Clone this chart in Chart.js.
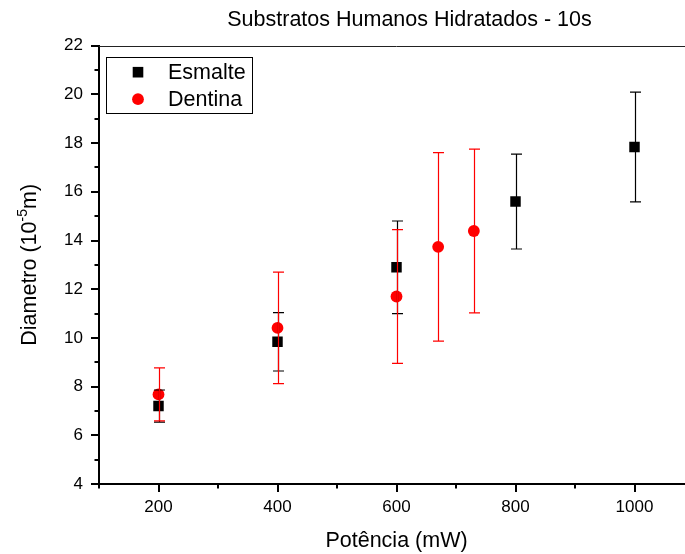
<!DOCTYPE html>
<html><head><meta charset="utf-8">
<script src="https://cdn.jsdelivr.net/npm/chart.js@4"></script>
<style>html,body{margin:0;padding:0;overflow:hidden;background:#fff}
#wrap{width:819px;height:554px;position:relative}
</style></head><body><div id="wrap"><canvas id="c" width="819" height="554"></canvas></div>
<script>
const titleText = 'Substratos Humanos Hidratados - 10s';
const xTitle = 'Potência (mW)';
const yTitleMain = 'Diametro (10';
const yTitleSup = '-5';
const yTitleEnd = 'm)';
const seriesLabels = ['Esmalte', 'Dentina'];
const esmalteX = [200, 400, 600, 800, 1000];
const esmalteY = [7.2, 9.84, 12.9, 15.6, 17.84];
const esmalteErr = [0.66, 1.2, 1.9, 1.95, 2.25];
const dentinaX = [200, 400, 600, 670, 730];
const dentinaY = [7.68, 10.41, 11.7, 13.74, 14.39];
const dentinaErr = [1.09, 2.29, 2.75, 3.87, 3.36];
const xMin = 100, xMax = 1100, xStep = 100, xLabelEvery = 200;
const yMin = 4, yMax = 22, yStep = 1, yLabelEvery = 2;

const FONT = "'Liberation Sans', Arial, sans-serif";
const errors = [esmalteErr, dentinaErr];

const toPts = (xs, ys) => xs.map((x, i) => ({x: x, y: ys[i]}));

const errorBarPlugin = {
  id: 'errorBars',
  afterDatasetsDraw(chart) {
    const ctx = chart.ctx, xs = chart.scales.x, ys = chart.scales.y;
    chart.data.datasets.forEach((ds, di) => {
      const err = errors[di];
      ctx.save();
      ctx.strokeStyle = ds.borderColor;
      ctx.lineWidth = 1.2;
      ds.data.forEach((p, i) => {
        const px = Math.round(xs.getPixelForValue(p.x)) + 0.5;
        const y1 = ys.getPixelForValue(p.y + err[i]);
        const y2 = ys.getPixelForValue(p.y - err[i]);
        ctx.beginPath();
        ctx.moveTo(px, y1); ctx.lineTo(px, y2);
        ctx.moveTo(px - 5.5, y1); ctx.lineTo(px + 5.5, y1);
        ctx.moveTo(px - 5.5, y2); ctx.lineTo(px + 5.5, y2);
        ctx.stroke();
      });
      ctx.restore();
    });
  }
};

const decorPlugin = {
  id: 'decor',
  afterDraw(chart) {
    const ctx = chart.ctx, a = chart.chartArea, xs = chart.scales.x, ys = chart.scales.y;
    ctx.save();
    // chart title
    ctx.fillStyle = '#000';
    ctx.font = '21.5px ' + FONT;
    ctx.textAlign = 'center';
    ctx.textBaseline = 'alphabetic';
    ctx.fillText(titleText, 409.5, 26);
    // top frame line
    ctx.strokeStyle = '#222';
    ctx.lineWidth = 1;
    ctx.beginPath();
    ctx.moveTo(a.left, Math.round(a.top) + 0.5); ctx.lineTo(a.right, Math.round(a.top) + 0.5);
    ctx.stroke();
    // ticks
    ctx.strokeStyle = '#000';
    ctx.lineWidth = 2;
    ctx.beginPath();
    xs.ticks.forEach(t => {
      const px = Math.round(xs.getPixelForValue(t.value));
      const len = (t.value % xLabelEvery === 0) ? 8 : 4.5;
      ctx.moveTo(px, a.bottom); ctx.lineTo(px, a.bottom + len);
    });
    ys.ticks.forEach(t => {
      const py = Math.round(ys.getPixelForValue(t.value));
      const len = (t.value % yLabelEvery === 0) ? 8 : 4.5;
      ctx.moveTo(a.left, py); ctx.lineTo(a.left - len, py);
    });
    ctx.stroke();

    // y axis title with superscript
    ctx.fillStyle = '#000';
    ctx.textBaseline = 'alphabetic';
    ctx.textAlign = 'left';
    const big = '21.5px ' + FONT, small = '14px ' + FONT;
    ctx.font = big;
    const w1 = ctx.measureText(yTitleMain).width, w3 = ctx.measureText(yTitleEnd).width;
    ctx.font = small;
    const w2 = ctx.measureText(yTitleSup).width;
    const total = w1 + w2 + w3;
    ctx.translate(36, (a.top + a.bottom) / 2);
    ctx.rotate(-Math.PI / 2);
    let x0 = -total / 2;
    ctx.font = big;
    ctx.fillText(yTitleMain, x0, 0);
    ctx.font = small;
    ctx.fillText(yTitleSup, x0 + w1, -9);
    ctx.font = big;
    ctx.fillText(yTitleEnd, x0 + w1 + w2, 0);
    ctx.restore();

    // legend
    ctx.save();
    const lx = a.left + 7, ly = a.top + 11, lw = 146, lh = 56;
    ctx.strokeStyle = '#000';
    ctx.lineWidth = 1;
    ctx.strokeRect(Math.round(lx) + 0.5, Math.round(ly) + 0.5, lw, lh);
    ctx.font = '21.5px ' + FONT;
    ctx.textBaseline = 'middle';
    ctx.textAlign = 'left';
    chart.data.datasets.forEach((ds, i) => {
      const cy = ly + 15.5 + i * 27;
      const cx = lx + 32;
      ctx.fillStyle = ds.backgroundColor;
      if (ds.pointStyle === 'rect') {
        ctx.fillRect(cx - 5.3, cy - 5.3, 10.6, 10.6);
      } else {
        ctx.beginPath(); ctx.arc(cx, cy, 5.9, 0, Math.PI * 2); ctx.fill();
      }
      ctx.fillStyle = '#000';
      ctx.fillText(ds.label, lx + 62, cy + 1);
    });
    ctx.restore();
  }
};

new Chart(document.getElementById('c'), {
  type: 'scatter',
  data: {
    datasets: [
      {label: seriesLabels[0], data: toPts(esmalteX, esmalteY), pointStyle: 'rect', pointRadius: 7.4, pointHoverRadius: 7.4,
       backgroundColor: '#000000', borderColor: '#000000', pointBorderWidth: 0},
      {label: seriesLabels[1], data: toPts(dentinaX, dentinaY), pointStyle: 'circle', pointRadius: 5.9, pointHoverRadius: 5.9,
       backgroundColor: '#ff0000', borderColor: '#ff0000', pointBorderWidth: 0}
    ]
  },
  options: {
    responsive: false,
    animation: false,
    devicePixelRatio: 1,
    layout: {padding: {left: 0, right: 125, top: 45.7, bottom: 0}},
    plugins: {
      legend: {display: false},
      tooltip: {enabled: false},
      title: {display: false}
    },
    scales: {
      x: {
        type: 'linear', min: xMin, max: xMax,
        afterFit: s => { s.height = 70; },
        border: {display: true, color: '#000', width: 2},
        grid: {display: true, drawOnChartArea: false, drawTicks: true, tickLength: 8, tickColor: 'rgba(0,0,0,0)'},
        ticks: {stepSize: xStep, autoSkip: false, maxRotation: 0, padding: 5, color: '#000',
                font: {family: FONT, size: 17},
                callback: v => (v % xLabelEvery === 0 ? String(v) : '')},
        title: {display: true, text: xTitle, color: '#000', font: {family: FONT, size: 21.5, weight: 'normal'},
                padding: {top: 0, bottom: 0.5}}
      },
      y: {
        type: 'linear', min: yMin, max: yMax,
        afterFit: s => { s.width = 99; },
        border: {display: true, color: '#000', width: 2},
        grid: {display: true, drawOnChartArea: false, drawTicks: true, tickLength: 8, tickColor: 'rgba(0,0,0,0)'},
        ticks: {stepSize: yStep, autoSkip: false, padding: 8, color: '#000',
                font: {family: FONT, size: 17},
                callback: v => (v % yLabelEvery === 0 ? String(v) : '')}
      }
    }
  },
  plugins: [errorBarPlugin, decorPlugin]
});
</script>
</body></html>
